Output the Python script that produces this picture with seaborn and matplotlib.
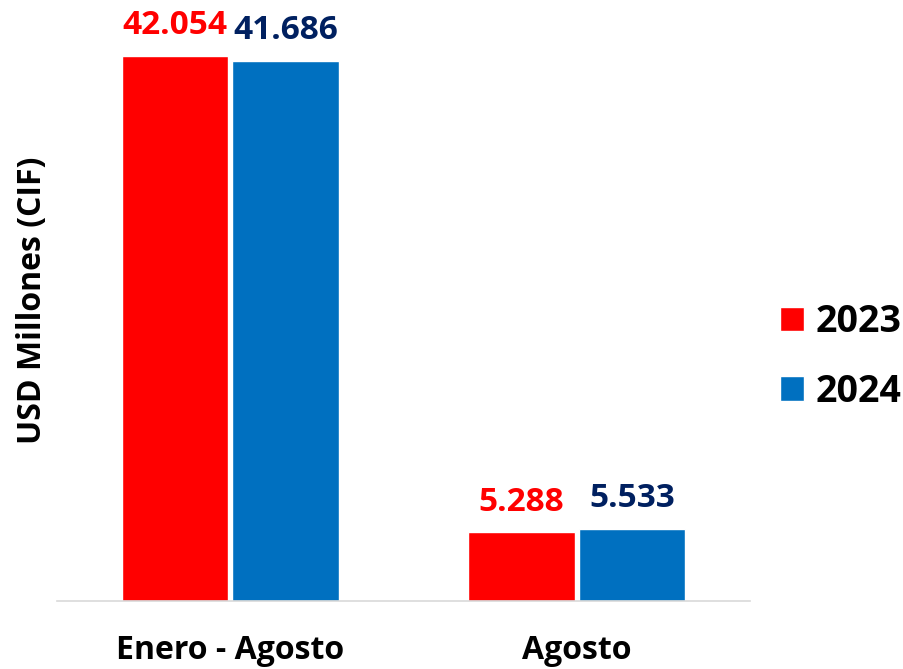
import matplotlib
matplotlib.use("Agg")
import matplotlib.pyplot as plt
import seaborn as sns
import pandas as pd

categories = ["Enero - Agosto", "Agosto"]
years = ["2023", "2024"]
values_2023 = [42054, 5288]
values_2024 = [41686, 5533]

df = pd.DataFrame({
    "periodo": categories * 2,
    "anio": [years[0]] * 2 + [years[1]] * 2,
    "valor": values_2023 + values_2024,
})

sns.set_style("white")
plt.rcParams["font.family"] = ["Open Sans", "DejaVu Sans"]
plt.rcParams["text.color"] = "black"
plt.rcParams["axes.labelcolor"] = "black"
plt.rcParams["xtick.labelcolor"] = "black"

bar_colors = {"2023": "#FF0000", "2024": "#0070C0"}
label_colors = {"2023": "#FF0000", "2024": "#002060"}

fig = plt.figure(figsize=(9.04, 6.69), dpi=100)
ax = fig.add_axes([57 / 904, 68 / 669, 693 / 904, 601 / 669])

sns.barplot(data=df, x="periodo", y="valor", hue="anio", order=categories,
            hue_order=years, palette=bar_colors, width=0.64, gap=0.04,
            saturation=1, ax=ax)

ax.set_xlim(-0.5, 1.5)
ax.set_ylim(0, 46370)

for cont, yr in zip(ax.containers, years):
    labs = [f"{int(round(v)):,}".replace(",", ".") for v in cont.datavalues]
    ax.bar_label(cont, labels=labs, padding=10, color=label_colors[yr],
                 fontsize=24, fontweight="bold")

for s in ["top", "right", "left"]:
    ax.spines[s].set_visible(False)
ax.spines["bottom"].set_color("#D9D9D9")
ax.spines["bottom"].set_linewidth(1.2)
ax.set_yticks([])
ax.set_xticks([-0.5, 0.5, 1.5], minor=True)
ax.tick_params(axis="x", which="minor", length=8, width=1.2, color="#D9D9D9")
ax.tick_params(axis="x", which="major", length=0, pad=24, labelsize=23, labelcolor="black")
for t in ax.get_xticklabels():
    t.set_fontweight("bold")
ax.set_xlabel("")
ax.set_ylabel("USD Millones (CIF)", fontsize=23, fontweight="bold", labelpad=6, color="black")

handles, labels = ax.get_legend_handles_labels()
ax.legend(handles, labels, loc="center left", bbox_to_anchor=(780 / 904, 1 - 357 / 669),
          bbox_transform=fig.transFigure, frameon=False, labelcolor="black",
          prop={"weight": "bold", "size": 27}, handlelength=0.64, handleheight=0.64,
          handletextpad=0.3, labelspacing=0.84, borderpad=0, borderaxespad=0)

fig.savefig("out.png", dpi=100)
